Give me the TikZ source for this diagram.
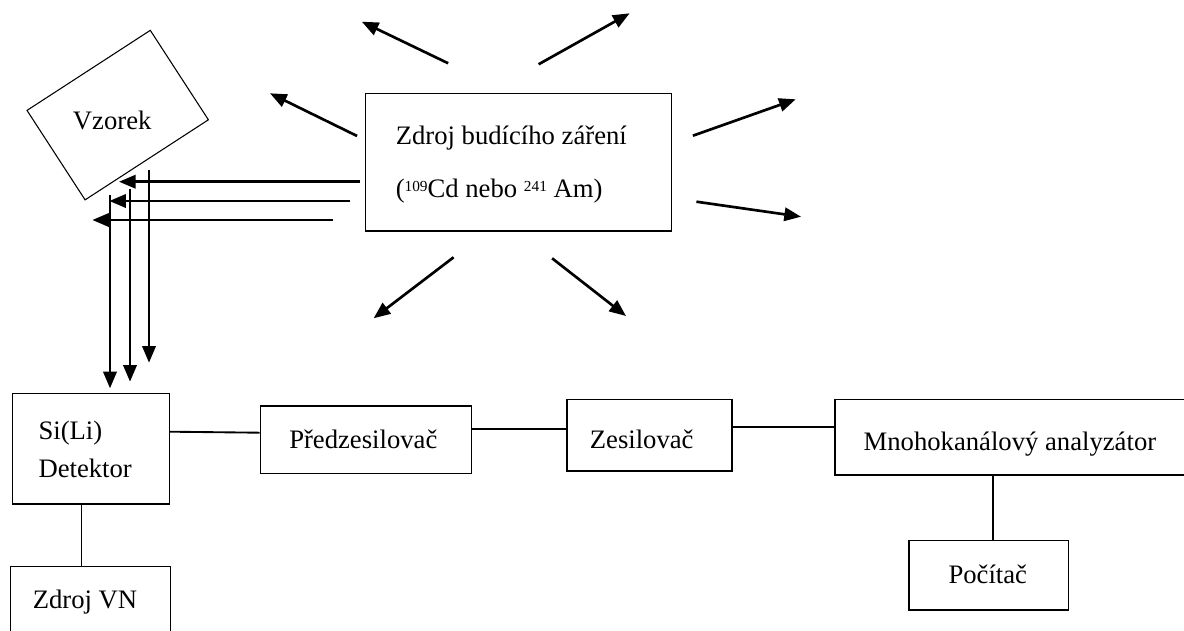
\documentclass[tikz,border=0pt]{standalone}
\usepackage{fontspec}
\setmainfont{Liberation Serif}
\usetikzlibrary{arrows.meta,fit}
\newcommand\supnum[1]{\raisebox{4.2pt}{\fontsize{11.5}{12}\selectfont #1}}
\begin{document}
\begin{tikzpicture}[x=0.75pt,y=-0.75pt,
  blk/.style={draw, line width=0.8pt, inner sep=0pt},
  lbl/.style={anchor=base west, inner sep=0pt, font=\fontsize{20}{24}\selectfont},
  ray/.style={line width=2pt, -{Triangle[length=12.5pt,width=10pt]}},
  wire/.style={line width=1.4pt}]
\clip (0,0) rectangle (1184,631);
\fill[white] (0,0) rectangle (1184,631);

% boxes
\node[blk, rotate=33, minimum width=110.25pt, minimum height=80pt] (vz) at (117.7,115.1) {};
\node[blk, fit={(365.4,93.3) (671.4,231)}] (src) {};
\node[blk, fit={(12.6,393.3) (169.5,504)}] (det) {};
\node[blk, fit={(10.7,566.7) (170.3,645)}] (vn) {};
\node[blk, fit={(260.2,406) (471.9,473.3)}] (pred) {};
\node[blk, fit={(567,399.3) (732,471)}] (zes) {};
\node[blk, fit={(835,399.3) (1200,475)}] (mca) {};
\node[blk, fit={(909,540.7) (1068.4,610)}] (pc) {};

% labels
\node[lbl] (tvz) at (72.7,129.3) {Vzorek};
\node[lbl] (tsrc1) at (395.5,144.3) {Zdroj budícího záření};
\node[lbl] (tsrc2) at (395.5,197.3) {(\supnum{109}Cd nebo \supnum{241} Am)};
\node[lbl] (tdet1) at (38.3,439) {Si(Li)};
\node[lbl] (tdet2) at (38.3,477.5) {Detektor};
\node[lbl] (tvn) at (32.5,608.5) {Zdroj VN};
\node[lbl] (tpred) at (289,448.3) {Předzesilovač};
\node[lbl] (tzes) at (589.6,448.3) {Zesilovač};
\node[lbl] (tmca) at (863.4,450) {Mnohokanálový analyzátor};
\node[lbl] (tpc) at (948.3,583.3) {Počítač};

% radiating arrows
\coordinate (r1s) at (448.2,63.3);  \coordinate (r1e) at (361.8,21.7);
\coordinate (r2s) at (538.6,64.3);  \coordinate (r2e) at (629.6,13.3);
\coordinate (r3s) at (357.1,136);   \coordinate (r3e) at (270,93.3);
\coordinate (r4s) at (692.9,135.7); \coordinate (r4e) at (795.7,99.3);
\coordinate (r5s) at (696.4,201.7); \coordinate (r5e) at (801,216.7);
\coordinate (r6s) at (453.6,257.3); \coordinate (r6e) at (373.6,318.3);
\coordinate (r7s) at (552.1,258.3); \coordinate (r7e) at (626,316);
\foreach \i in {1,...,7} {\draw[ray] (r\i s) -- (r\i e);}

% beams to sample
\coordinate (h1s) at (360,181.7);   \coordinate (h1e) at (119,181.7);
\coordinate (h2s) at (350,201);     \coordinate (h2e) at (109.3,201);
\coordinate (h3s) at (333.3,220);   \coordinate (h3e) at (92.3,220);
\foreach \i in {1,2,3} {\draw[ray] (h\i s) -- (h\i e);}

% beams to detector
\coordinate (v1s) at (149,170);     \coordinate (v1e) at (149,362.7);
\coordinate (v2s) at (130,189.3);   \coordinate (v2e) at (130,381.7);
\coordinate (v3s) at (110,195);     \coordinate (v3e) at (110,388.3);
\foreach \i in {1,2,3} {\draw[ray] (v\i s) -- (v\i e);}

% wires
\draw[wire] (det.east |- 0,431.7) -- (pred.west |- 0,432.7);
\draw[wire] (pred.east |- 0,429.3) -- (zes.west |- 0,429.3);
\draw[wire] (zes.east |- 0,426.7) -- (mca.west |- 0,426.7);
\draw[wire] (det.south -| 81.5,0) -- (vn.north -| 81.5,0);
\draw[wire] (mca.south -| 992.8,0) -- (pc.north -| 992.8,0);
\end{tikzpicture}
\end{document}
